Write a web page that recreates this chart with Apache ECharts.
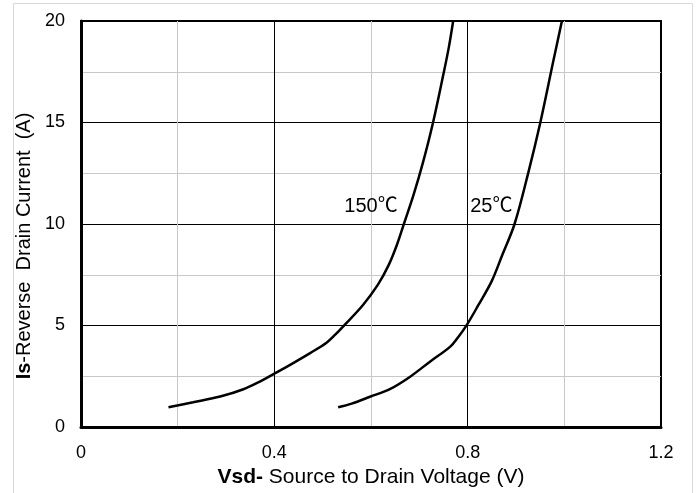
<!DOCTYPE html>
<html>
<head>
<meta charset="utf-8">
<script src="https://cdn.jsdelivr.net/npm/echarts@6/dist/echarts.min.js"></script>
<style>
html,body{margin:0;padding:0;background:#fff;}
#chart{width:698px;height:493px;}
</style>
</head>
<body>
<div id="chart"></div>
<script>
// Data
var vsd150 = [0.181, 0.232, 0.288, 0.336, 0.370, 0.401, 0.439, 0.474, 0.508, 0.526, 0.545, 0.583, 0.614, 0.637, 0.654, 0.668, 0.688, 0.708, 0.728, 0.750, 0.761, 0.770];
var is150  = [0.97, 1.22, 1.50, 1.86, 2.24, 2.64, 3.15, 3.64, 4.15, 4.55, 5.02, 6.00, 7.00, 8.00, 9.00, 10.00, 11.43, 13.07, 14.96, 17.40, 18.70, 20.0];
var vsd25  = [0.532, 0.560, 0.598, 0.640, 0.681, 0.722, 0.764, 0.781, 0.798, 0.822, 0.850, 0.872, 0.897, 0.926, 0.950, 0.977, 0.995];
var is25   = [0.97, 1.15, 1.49, 1.88, 2.48, 3.22, 3.96, 4.45, 5.02, 6.00, 7.20, 8.50, 10.00, 12.58, 14.96, 18.0, 20.0];
var curveLabels = ['150℃', '25℃'];
var labelVsd = [0.600, 0.849];
var labelIs = [10.84, 10.84];
var xMin = 0, xMax = 1.2, xStep = 0.4;
var yMin = 0, yMax = 20, yStep = 5;

function pairs(xs, ys) { return xs.map(function (x, i) { return [x, ys[i]]; }); }

var FONT = '"Liberation Sans", Arial, "Noto Sans CJK SC", sans-serif';
var chart = echarts.init(document.getElementById('chart'), null, {renderer: 'canvas'});

function curve(name, xs, ys, li) {
  return {
    name: name,
    type: 'line',
    data: pairs(xs, ys),
    smooth: 0.35,
    showSymbol: false,
    symbol: 'none',
    lineStyle: {color: '#000', width: 2.5},
    z: 5,
    markPoint: {
      symbol: 'rect',
      symbolSize: 0,
      silent: true,
      label: {show: true, position: 'inside', color: '#000', fontSize: 20, fontFamily: FONT, formatter: curveLabels[li]},
      data: [{coord: [labelVsd[li], labelIs[li]]}]
    }
  };
}

chart.setOption({
  backgroundColor: '#fff',
  animation: false,
  graphic: [{
    type: 'rect', left: 11, top: 1, shape: {width: 679, height: 490},
    style: {fill: 'none', stroke: '#d9d9d9', lineWidth: 1}, silent: true, z: -1
  }],
  grid: {left: 81, right: 37, top: 21, bottom: 66, show: true, borderColor: '#000', borderWidth: 2, backgroundColor: 'transparent'},
  xAxis: {
    type: 'value', min: xMin, max: xMax, interval: xStep,
    axisLine: {show: true, onZero: false, lineStyle: {color: '#000', width: 3}},
    axisTick: {show: false},
    minorTick: {show: false, splitNumber: 2},
    splitLine: {show: true, lineStyle: {color: '#000', width: 1}},
    minorSplitLine: {show: true, lineStyle: {color: '#c8c8c8', width: 1}},
    axisLabel: {color: '#000', fontSize: 18, fontFamily: FONT, margin: 17,
      formatter: function (v) { return v === 0 ? '0' : v.toFixed(1); }},
    name: '{b|Vsd-} Source to Drain Voltage (V)',
    nameLocation: 'middle', nameGap: 34,
    nameTextStyle: {color: '#000', fontSize: 21, fontFamily: FONT,
      rich: {b: {fontWeight: 'bold', fontSize: 21, fontFamily: FONT, color: '#000'}}}
  },
  yAxis: {
    type: 'value', min: yMin, max: yMax, interval: yStep,
    axisLine: {show: true, onZero: false, lineStyle: {color: '#000', width: 3}},
    axisTick: {show: false},
    minorTick: {show: false, splitNumber: 2},
    splitLine: {show: true, lineStyle: {color: '#000', width: 1}},
    minorSplitLine: {show: true, lineStyle: {color: '#c8c8c8', width: 1}},
    axisLabel: {color: '#000', fontSize: 18, fontFamily: FONT, margin: 16},
    name: '{b|Is}-Reverse  Drain Current  (A)',
    nameLocation: 'middle', nameGap: 41,
    nameTextStyle: {color: '#000', fontSize: 20, fontFamily: FONT, padding: [0, 44, 0, 0],
      rich: {b: {fontWeight: 'bold', fontSize: 20, fontFamily: FONT, color: '#000'}}}
  },
  series: [
    curve('150℃', vsd150, is150, 0),
    curve('25℃', vsd25, is25, 1)
  ]
});
</script>
</body>
</html>
